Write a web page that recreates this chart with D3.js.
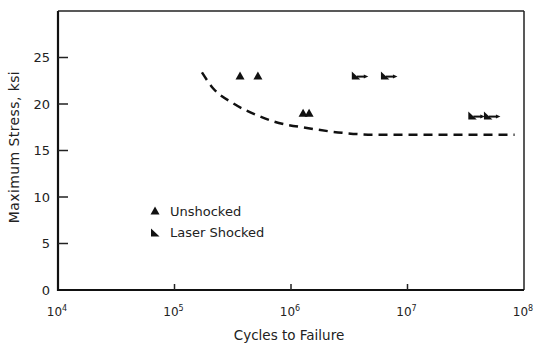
<!DOCTYPE html>
<html><head><meta charset="utf-8">
<script src="https://cdn.jsdelivr.net/npm/d3@7"></script>
<style>body{margin:0;background:#fff}text{font-family:"DejaVu Sans",Verdana,sans-serif;fill:#222}</style>
</head><body>
<svg id="c" width="550" height="353"></svg>
<script>
const unshockedCycles = [3.65e5, 5.2e5, 1.27e6, 1.43e6];
const unshockedStress = [23, 23, 19, 19];
const laserCycles = [3.6e6, 6.4e6, 3.6e7, 4.9e7];
const laserStress = [23, 23, 18.7, 18.7];
const curveCycles = [1.72e5, 2.14e5, 3.16e5, 5.1e5, 7.2e5, 1.41e6, 2.75e6, 5.2e6, 1e7, 2e7, 3.8e7, 8.3e7];
const curveStress = [23.4, 21.7, 20.1, 18.8, 18.1, 17.4, 16.9, 16.7, 16.7, 16.7, 16.7, 16.7];
const xTickExps = [4, 5, 6, 7, 8];
const yTicks = [0, 5, 10, 15, 20, 25];

const svg = d3.select("#c");
const L = 58, R = 524, T = 11, B = 290;
const x = d3.scaleLog().domain([1e4, 1e8]).range([L, R]);
const y = d3.scaleLinear().domain([0, 30]).range([B, T]);

// frame
svg.append("line").attr("x1", L).attr("x2", R).attr("y1", T).attr("y2", T).attr("stroke", "#222").attr("stroke-width", 1.5);
svg.append("line").attr("x1", R).attr("x2", R).attr("y1", T).attr("y2", B).attr("stroke", "#222").attr("stroke-width", 1.5);
svg.append("line").attr("x1", L).attr("x2", L).attr("y1", T).attr("y2", B + 1).attr("stroke", "#111").attr("stroke-width", 2.2);
svg.append("line").attr("x1", L - 1).attr("x2", R).attr("y1", B).attr("y2", B).attr("stroke", "#111").attr("stroke-width", 2.2);

// y ticks
const yAxis = d3.axisLeft(y).tickValues(yTicks).tickSize(0).tickPadding(8).tickFormat(d3.format("d"));
const ya = svg.append("g").attr("transform", `translate(${L},0)`).call(yAxis);
ya.select(".domain").remove();
ya.selectAll("text").style("font-size", "13px").style("font-family", "'DejaVu Sans',sans-serif").attr("fill", "#222");
svg.selectAll(".ytk").data(yTicks.filter(d => d > 0)).enter().append("line")
  .attr("x1", L).attr("x2", L + 10).attr("y1", d => y(d)).attr("y2", d => y(d))
  .attr("stroke", "#222").attr("stroke-width", 1.5);

// x ticks
svg.selectAll(".xtk").data(xTickExps.slice(1, 4)).enter().append("line")
  .attr("x1", d => x(Math.pow(10, d))).attr("x2", d => x(Math.pow(10, d)))
  .attr("y1", B).attr("y2", B - 6).attr("stroke", "#222").attr("stroke-width", 1.5);
const xl = svg.selectAll(".xl").data(xTickExps).enter().append("text")
  .attr("x", d => x(Math.pow(10, d)) - 1).attr("y", 316)
  .attr("text-anchor", "middle").style("font-size", "12px");
xl.append("tspan").text("10");
xl.append("tspan").attr("dy", -5).style("font-size", "8px").text(d => d);

// axis titles
svg.append("text").attr("x", 289).attr("y", 340).attr("text-anchor", "middle").style("font-size", "13.5px").text("Cycles to Failure");
svg.append("text").attr("transform", "translate(19,147) rotate(-90)").attr("text-anchor", "middle").style("font-size", "14px").style("letter-spacing", "0.4px").text("Maximum Stress, ksi");

// curve
const curveData = curveCycles.map((c, i) => [c, curveStress[i]]);
svg.append("path").datum(curveData)
  .attr("d", d3.line().x(d => x(d[0])).y(d => y(d[1])).curve(d3.curveMonotoneX))
  .attr("fill", "none").attr("stroke", "#111").attr("stroke-width", 2.5).attr("stroke-dasharray", "9,6");

// unshocked triangles
const tri = "M0,-4.5 L4.5,3.5 L-4.5,3.5 Z";
svg.selectAll(".un").data(unshockedCycles.map((c, i) => [c, unshockedStress[i]])).enter().append("path")
  .attr("d", tri).attr("transform", d => `translate(${x(d[0])},${y(d[1])})`).attr("fill", "#111");

// laser shocked: half triangle with runout arrow
const half = "M-4,-4.5 L-4,3.5 L4.5,3.5 Z";
const ls = svg.selectAll(".ls").data(laserCycles.map((c, i) => [c, laserStress[i]])).enter().append("g")
  .attr("transform", d => `translate(${x(d[0])},${y(d[1])})`);
ls.append("path").attr("d", half).attr("fill", "#111");
ls.append("line").attr("x1", 1).attr("x2", 9).attr("y1", 0.5).attr("y2", 0.5).attr("stroke", "#111").attr("stroke-width", 2);
ls.append("path").attr("d", "M8,-1.5 L12.5,0.5 L8,2.5 Z").attr("fill", "#111");

// legend
svg.append("path").attr("d", tri).attr("transform", "translate(155,211)").attr("fill", "#111");
svg.append("text").attr("x", 170).attr("y", 216).style("font-size", "13px").text("Unshocked");
svg.append("path").attr("d", half).attr("transform", "translate(155,233)").attr("fill", "#111");
svg.append("text").attr("x", 170).attr("y", 237).style("font-size", "13px").text("Laser Shocked");
</script>
</body></html>
